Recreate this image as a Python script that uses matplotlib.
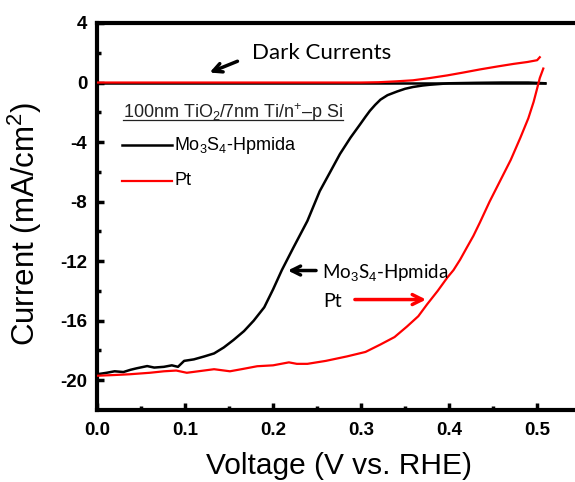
import matplotlib
matplotlib.use("Agg")
import matplotlib.pyplot as plt

plt.rcParams['font.family'] = ['Liberation Sans', 'DejaVu Sans']
plt.rcParams['mathtext.fontset'] = 'custom'
plt.rcParams['mathtext.rm'] = 'Liberation Sans'
plt.rcParams['mathtext.it'] = 'Liberation Sans:italic'
plt.rcParams['mathtext.bf'] = 'Liberation Sans:bold'

# Mo3S4-Hpmida under illumination
mo_v = [0.000, 0.011, 0.020, 0.030, 0.038, 0.045, 0.057, 0.065, 0.076, 0.085,
        0.092, 0.099, 0.110, 0.122, 0.133, 0.144, 0.155, 0.167, 0.178, 0.190,
        0.200, 0.210, 0.223, 0.239, 0.253, 0.265, 0.276, 0.288, 0.299, 0.305,
        0.310, 0.316, 0.322, 0.330, 0.341, 0.350, 0.359, 0.370, 0.378, 0.400,
        0.430, 0.460, 0.490, 0.509]
mo_i = [-19.6, -19.5, -19.4, -19.45, -19.3, -19.2, -19.05, -19.15, -19.1, -19.0,
        -19.1, -18.7, -18.6, -18.4, -18.2, -17.8, -17.3, -16.7, -16.0, -15.1,
        -13.9, -12.6, -11.1, -9.3, -7.3, -6.0, -4.8, -3.7, -2.8, -2.3,
        -1.9, -1.5, -1.15, -0.85, -0.6, -0.42, -0.3, -0.2, -0.15, -0.05,
        -0.02, 0.0, 0.0, -0.05]

# Pt under illumination
pt_v = [0.0, 0.02, 0.037, 0.06, 0.076, 0.09, 0.102, 0.115, 0.133, 0.151,
        0.165, 0.182, 0.2, 0.218, 0.227, 0.239, 0.26, 0.284, 0.305, 0.322,
        0.338, 0.352, 0.365, 0.375, 0.387, 0.398, 0.405, 0.4125, 0.42, 0.4276,
        0.435, 0.446, 0.458, 0.47, 0.481, 0.49, 0.496, 0.500, 0.503, 0.507]
pt_i = [-19.7, -19.65, -19.6, -19.5, -19.4, -19.35, -19.5, -19.4, -19.26, -19.4,
        -19.25, -19.06, -19.0, -18.8, -18.9, -18.9, -18.7, -18.4, -18.1, -17.6,
        -17.1, -16.4, -15.7, -14.9, -14.0, -13.1, -12.6, -11.9, -11.1, -10.3,
        -9.4, -8.0, -6.6, -5.2, -3.7, -2.4, -1.3, -0.4, 0.3, 0.94]

# dark currents
mo_dark_v = [0.0, 0.1, 0.2, 0.3, 0.4, 0.509]
mo_dark_i = [0.0, 0.0, 0.0, 0.0, 0.0, 0.0]
pt_dark_v = [0.0, 0.1, 0.2, 0.3, 0.32, 0.34, 0.359, 0.378, 0.398, 0.416,
             0.435, 0.455, 0.473, 0.489, 0.5, 0.503]
pt_dark_i = [0.0, 0.0, 0.0, 0.0, 0.02, 0.08, 0.15, 0.3, 0.48, 0.67,
             0.88, 1.08, 1.25, 1.38, 1.5, 1.7]

x_ticks = [0.0, 0.1, 0.2, 0.3, 0.4, 0.5]
y_ticks = [4, 0, -4, -8, -12, -16, -20]

fig = plt.figure(figsize=(5.75, 4.82), dpi=100)
ax = fig.add_axes([0.1687, 0.1494, 0.842, 0.8029])

ax.plot(mo_dark_v, mo_dark_i, color='black', lw=1.8, zorder=2)
ax.plot(mo_v, mo_i, color='black', lw=1.8, zorder=2)
ax.plot(pt_dark_v, pt_dark_i, color='red', lw=1.6, zorder=3)
ax.plot(pt_v, pt_i, color='red', lw=1.6, zorder=3)

ax.set_xlim(0, 0.55)
ax.set_ylim(-22, 4)
ax.set_xticks(x_ticks)
ax.set_yticks(y_ticks)
ax.set_xticklabels(['%.1f' % v for v in x_ticks], fontweight='bold', fontsize=13.5)
ax.set_yticklabels([str(v) for v in y_ticks], fontweight='bold', fontsize=13.5)
ax.set_xticks([0.05, 0.15, 0.25, 0.35, 0.45], minor=True)
ax.set_yticks([2, -2, -6, -10, -14, -18], minor=True)
ax.tick_params(which='major', direction='in', length=5, width=2.5, pad=7)
ax.tick_params(which='minor', direction='in', length=3, width=2.5)
ax.tick_params(axis='x', which='major', pad=9)
for s in ax.spines.values():
    s.set_linewidth(3)

ax.set_xlabel('Voltage (V vs. RHE)', fontsize=21.5, labelpad=9)
ax.set_ylabel('Current (mA/cm$^2$)', fontsize=22.5)
ax.yaxis.set_label_coords(-0.11, 0.48)

cal = ['Lato', 'DejaVu Sans']

# dark currents note
ax.text(0.176, 2.0, 'Dark Currents', family=cal, fontsize=16, va='center')
ax.annotate('', xy=(0.125, 0.6), xytext=(0.1625, 1.5),
            arrowprops=dict(arrowstyle='->', lw=2.5, color='black', mutation_scale=16))

# legend block
title = ax.text(0.0295, -2.0, r'100nm TiO$_2$/7nm Ti/n$^{+}$–p Si', fontsize=13,
                va='center', color='#222222')
ax.plot([0.0284, 0.0852], [-4.23, -4.23], color='black', lw=1.8)
ax.text(0.0875, -4.23, 'Mo$_3$S$_4$-Hpmida', fontsize=13, va='center')
ax.plot([0.0284, 0.0852], [-6.59, -6.59], color='red', lw=1.6)
ax.text(0.0875, -6.59, 'Pt', fontsize=13, va='center')

# curve labels
ax.text(0.2557, -12.77, 'Mo$_3$S$_4$-Hpmida', family=cal, fontsize=13.5, va='center')
ax.annotate('', xy=(0.2136, -12.63), xytext=(0.252, -12.63),
            arrowprops=dict(arrowstyle='->', lw=2.5, color='black', mutation_scale=16))
ax.text(0.257, -14.72, 'Pt', family=cal, fontsize=14, va='center')
ax.annotate('', xy=(0.377, -14.58), xytext=(0.2898, -14.58),
            arrowprops=dict(arrowstyle='->', lw=2.5, color='red', mutation_scale=18))

# underline the legend title
fig.canvas.draw()
bb = title.get_window_extent()
inv = ax.transData.inverted()
x0 = inv.transform((bb.x0, 0))[0]
x1 = inv.transform((bb.x1, 0))[0]
ax.plot([x0, x1], [-2.5, -2.5], color='#222222', lw=0.9)

fig.savefig('out.png', dpi=100)
